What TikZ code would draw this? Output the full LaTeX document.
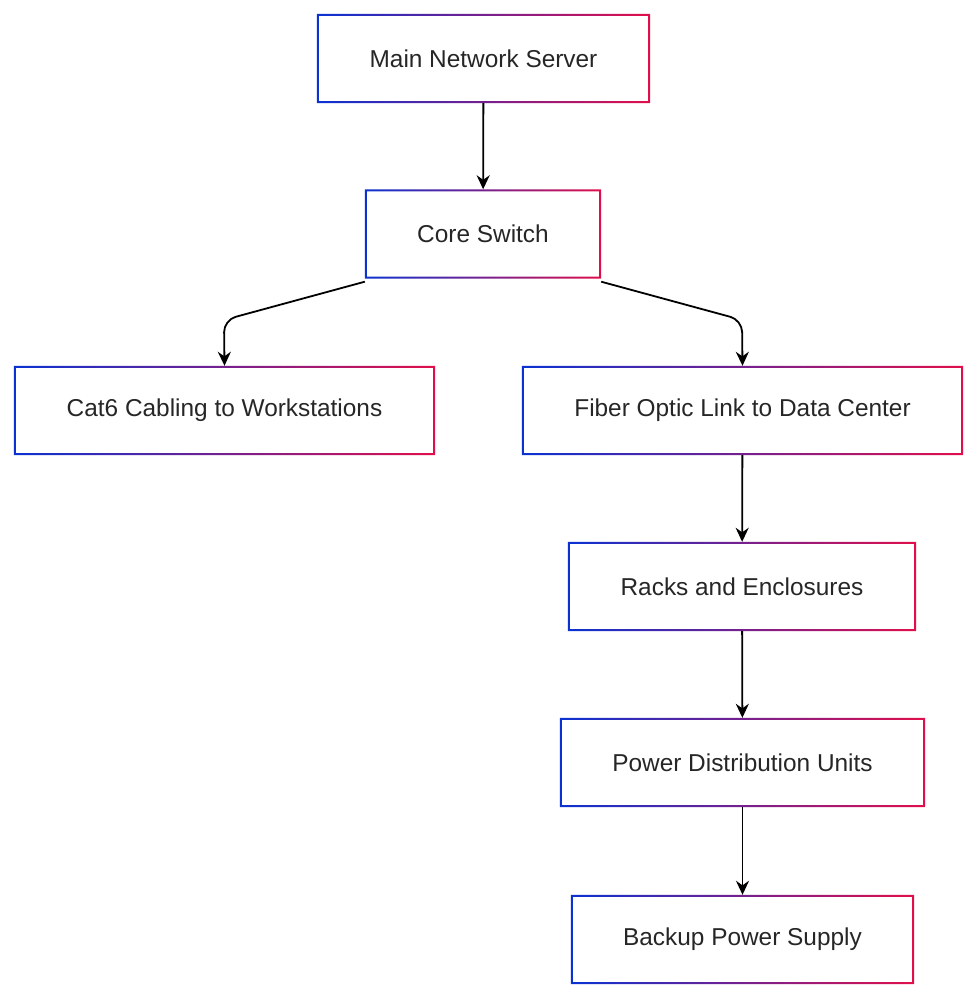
\documentclass[tikz,border=0pt]{standalone}
\usepackage{fontspec}
\setmainfont{Liberation Sans}
\usetikzlibrary{arrows.meta}

\definecolor{edgeblue}{RGB}{10,50,210}
\definecolor{edgered}{RGB}{225,15,75}
\tikzset{
  box/.style={minimum height=89pt, inner sep=0pt, text=black!85, font=\fontsize{24.4}{28}\selectfont},
  link/.style={draw=black, line width=1.8pt, -{Stealth[length=14pt,width=13pt]}, rounded corners=12pt}
}

\begin{document}
\begin{tikzpicture}[x=1pt,y=-1pt]
  \useasboundingbox (0,0) rectangle (979,1000);
  \node[box, minimum width=333pt] (server) at (483.5,58.5) {Main Network Server};
  \node[box, minimum width=236pt] (core) at (483,234) {Core Switch};
  \node[box, minimum width=421pt] (cat) at (224.5,410.5) {Cat6 Cabling to Workstations};
  \node[box, minimum width=441pt] (fiber) at (742.5,410.5) {Fiber Optic Link to Data Center};
  \node[box, minimum width=348pt] (racks) at (742,586.5) {Racks and Enclosures};
  \node[box, minimum width=365pt] (pdu) at (742.5,762.5) {Power Distribution Units};
  \node[box, minimum width=343pt] (ups) at (742.5,939.5) {Backup Power Supply};
  % gradient borders
  \foreach \n in {server,core,cat,fiber,racks,pdu,ups}
    \shade[left color=edgeblue, right color=edgered, even odd rule]
      (\n.south west) rectangle (\n.north east)
      ([shift={(2,-2)}]\n.south west) rectangle ([shift={(-2,2)}]\n.north east);
  % connectors
  \draw[link] (server) -- (core);
  \draw[link] ([yshift=-3]core.south west) -- (224,320) -- (cat.north);
  \draw[link] ([yshift=-3]core.south east) -- (742,320) -- (fiber.north);
  \draw[link] (fiber) -- (racks);
  \draw[link] (racks) -- (pdu);
  \draw[link] (pdu) -- (ups);
\end{tikzpicture}
\end{document}
